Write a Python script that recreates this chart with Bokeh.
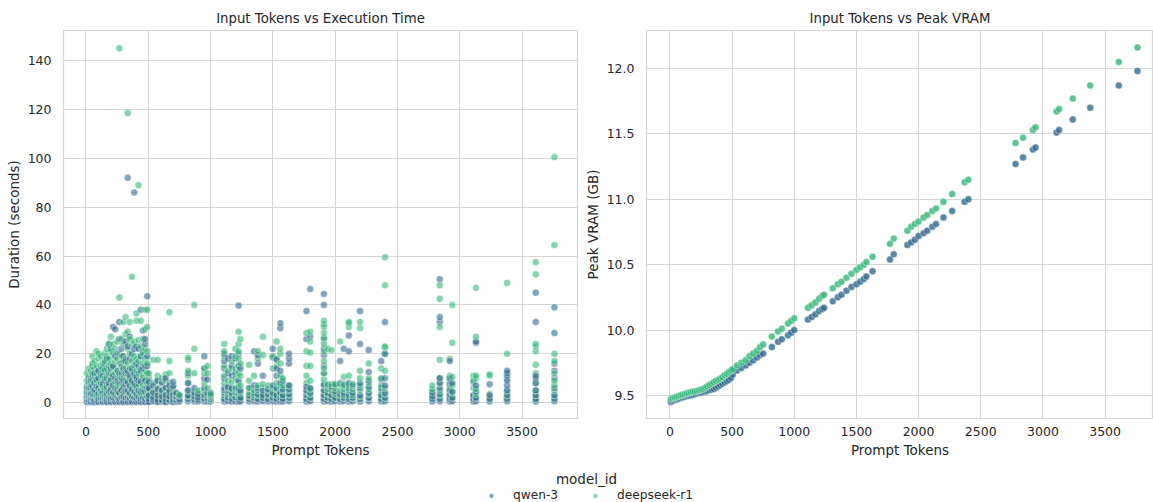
from bokeh.plotting import figure
from bokeh.layouts import column, row
from bokeh.models import (ColumnDataSource, Range1d, SingleIntervalTicker,
                          PrintfTickFormatter, Legend, LegendItem, Label)
from bokeh.embed import file_html
from bokeh.resources import INLINE

# ---- benchmark data -------------------------------------------------------
prompt_tokens = [8, 22, 38, 52, 68, 85, 100, 118, 135, 150, 168, 185, 200, 218, 235,
                 252, 268, 285, 300, 318, 335, 352, 370, 388, 405, 422, 440, 458, 475,
                 492, 505, 540, 575, 610, 640, 670, 700, 725, 750,
                 820, 870, 900, 950, 975, 1000,
                 1110, 1140, 1170, 1200, 1225, 1240,
                 1310, 1350, 1380, 1420, 1460, 1500, 1530, 1560, 1580, 1630,
                 1770, 1800, 1910, 1940, 1970, 2000, 2040, 2070, 2110, 2140, 2200,
                 2270, 2370, 2400,
                 2780, 2840, 2920, 2940, 3110, 3130, 3240, 3380, 3610, 3760]

qwen_vram = [9.45, 9.46, 9.465, 9.47, 9.475, 9.48, 9.485, 9.49, 9.495, 9.50, 9.50, 9.505,
             9.51, 9.515, 9.52, 9.52, 9.525, 9.53, 9.535, 9.54, 9.545, 9.55, 9.56, 9.57,
             9.58, 9.59, 9.60, 9.61, 9.62, 9.635, 9.66, 9.69, 9.71, 9.73, 9.75, 9.77,
             9.79, 9.81, 9.82,
             9.87, 9.91, 9.93, 9.96, 9.98, 10.0,
             10.08, 10.10, 10.12, 10.145, 10.16, 10.17,
             10.22, 10.25, 10.27, 10.30, 10.33, 10.35, 10.37, 10.39, 10.41, 10.45,
             10.54, 10.58, 10.65, 10.67, 10.69, 10.72, 10.74, 10.76, 10.79, 10.81, 10.86,
             10.91, 10.98, 11.0,
             11.27, 11.32, 11.38, 11.395, 11.51, 11.53, 11.61, 11.70, 11.87, 11.98]

deepseek_vram = [9.475, 9.48, 9.485, 9.49, 9.495, 9.50, 9.505, 9.51, 9.515, 9.52, 9.525,
                 9.53, 9.53, 9.535, 9.54, 9.545, 9.55, 9.56, 9.57, 9.58, 9.59, 9.60, 9.61,
                 9.62, 9.63, 9.64, 9.655, 9.665, 9.68, 9.69, 9.70, 9.73, 9.75, 9.77, 9.80,
                 9.82, 9.84, 9.87, 9.89,
                 9.95, 9.99, 10.01, 10.05, 10.07, 10.09,
                 10.17, 10.19, 10.21, 10.24, 10.26, 10.27,
                 10.32, 10.35, 10.37, 10.40, 10.43, 10.46, 10.48, 10.50, 10.52, 10.56,
                 10.66, 10.70, 10.76, 10.79, 10.81, 10.83, 10.86, 10.88, 10.91, 10.93, 10.98,
                 11.04, 11.13, 11.15,
                 11.43, 11.47, 11.53, 11.55, 11.67, 11.69, 11.77, 11.87, 12.05, 12.16]

# execution time (seconds) of each run, grouped per prompt
qwen_secs = [
    [0.5, 0.3, 1.2, 2.5, 4, 6], [0.5, 1.0, 3, 5.5, 8, 10], [0.6, 0.3, 1.5, 3.5, 6, 9],
    [0.5, 2, 4, 7, 11, 15], [0.5, 0.3, 1.2, 3, 5, 8, 12], [0.6, 2.5, 4.5, 7, 9.5],
    [0.5, 0.3, 1.5, 3.5, 6, 10, 13], [0.5, 2, 5, 8, 12], [0.6, 0.3, 1.8, 4, 7.5, 11, 14],
    [0.5, 2.2, 5, 9, 13, 16], [0.5, 0.3, 1.5, 3.5, 6.5, 10, 18], [0.6, 2.5, 4.5, 8, 12, 24],
    [0.5, 0.3, 1.6, 5, 9, 14, 22], [0.5, 2, 4, 7, 11, 15, 31], [0.6, 0.3, 1.8, 3.5, 6, 10, 19, 30],
    [0.5, 2.5, 5.5, 9, 13, 20], [0.5, 0.3, 1.5, 4, 8, 12, 26, 33], [0.6, 2, 5, 10, 16, 22],
    [0.5, 0.3, 2.5, 6, 9, 14, 19], [0.5, 1.8, 4.5, 7.5, 12, 17, 25],
    [0.6, 0.3, 2, 5, 8.5, 13, 23, 92], [0.5, 1.5, 4, 7, 11, 18, 27],
    [0.5, 0.3, 2.5, 5.5, 9, 14, 20], [0.6, 2, 4.5, 8, 12, 22, 86],
    [0.5, 0.3, 1.8, 3.5, 7, 10.5, 16, 23], [0.5, 2.5, 5, 9, 15, 22],
    [0.6, 0.3, 1.5, 4, 8.5, 13, 19, 38], [0.5, 2, 5.5, 10, 14, 21, 29.5],
    [0.5, 0.3, 1.6, 4.5, 9, 15, 24, 26], [0.6, 2.5, 6, 12, 15, 19, 43.5],
    [0.5, 0.3, 1.5, 3, 6, 8.5], [0.5, 0.9, 2, 4, 7], [0.5, 0.3, 1.2, 3, 5.5, 9],
    [0.4, 1, 2.5, 5, 8], [0.5, 0.3, 1.5, 3, 6, 10], [0.5, 1, 2.5, 4.5, 7],
    [0.5, 0.3, 1.2, 3, 6.5, 8.5], [0.4, 1, 2.5, 4], [0.5, 1.2, 2.8],
    [0.5, 1.5, 3, 5, 8, 12], [0.5, 1.2, 2.5, 4, 6], [0.5, 1, 2, 3.5],
    [0.5, 1.5, 3, 6, 10, 14, 19], [0.6, 1.8, 4, 9.5], [0.5, 1.5, 2.5, 4],
    [0.5, 1.5, 4, 6, 10, 14, 17, 20], [0.6, 2, 5, 6.5, 12, 18], [0.5, 1.5, 4, 6, 11, 15, 19],
    [0.6, 2, 5.5, 12, 18], [0.5, 1.5, 4, 6, 9, 15, 20, 39.7], [0.6, 2, 5, 14],
    [0.5, 1.5, 3, 6], [0.6, 2, 4, 7, 21], [0.5, 1.5, 3.5, 6, 16, 19.5],
    [0.6, 1.8, 3, 5, 11], [0.5, 1.5, 3.5, 5.5], [0.6, 2, 4, 7, 18.5, 22],
    [0.5, 1.5, 3, 6, 11, 14, 17.5], [0.6, 2, 4, 8, 13, 30.5, 32.5], [0.5, 1.5, 3, 5.5, 9],
    [0.6, 2, 3.5, 5.5, 7, 16, 18, 20],
    [0.5, 1.5, 3, 5, 6.5, 26, 37.5], [0.6, 2, 4, 6, 27, 46.5],
    [0.5, 1.5, 3, 5, 7.5, 12, 15, 19.5, 22, 26, 40, 44.5], [0.6, 2, 4, 7],
    [0.5, 1.5, 3, 6.5], [0.6, 2, 4.5, 7.5], [0.5, 1.5, 3.5, 8, 17], [0.6, 2, 4, 7.5, 22],
    [0.5, 1.5, 3, 6, 8, 21, 27.5], [0.6, 2, 4, 7], [0.5, 1.5, 3, 6, 8, 24, 37.5],
    [0.6, 2, 4, 6.5, 9, 12.5, 21.5], [0.5, 1.5, 3, 6, 9.5, 17], [0.6, 2, 4, 7, 10, 20, 33],
    [0.5, 1.5, 2.5, 4], [0.6, 1.5, 3.5, 6, 8, 10, 33, 35, 50.5], [0.5, 1.5, 3, 5, 7.5, 10, 17],
    [0.6, 2, 4.5, 8], [0.5, 1.5, 3, 8.5], [0.6, 2, 4.5, 7, 24.5, 25], [0.5, 1.5, 3, 7.5],
    [0.6, 1.5, 3, 5, 7, 9, 11, 12, 13], [0.5, 1.5, 3, 5, 8, 10, 11, 33, 45],
    [0.6, 1.5, 3, 6, 10, 13, 16, 28.5, 39],
]

deepseek_secs = [
    [1.5, 2.8, 4.5, 7, 9, 12], [1.2, 2.5, 4, 6, 8.5, 11, 14], [2, 3.5, 5, 7.5, 10, 13],
    [1.5, 3, 6, 9, 12, 16, 19], [2, 4, 5.5, 8, 11, 14, 17], [1.8, 3, 6.5, 9, 12, 15, 21],
    [2.2, 4, 7, 10, 13, 18, 20], [1.5, 3.5, 5, 8, 11, 15, 19], [2, 4.5, 6.5, 9, 12.5, 16],
    [1.6, 3, 6, 10, 13.5, 17, 20], [2.5, 5, 7.5, 11, 14, 19, 22], [1.8, 4, 7, 10.5, 15, 18, 24],
    [2, 3.5, 6, 9.5, 12, 16, 21, 27], [1.5, 4.5, 8, 11.5, 14.5, 20, 24], [2.5, 5, 8.5, 12, 17, 22],
    [2, 4, 6.5, 10, 13, 18, 25], [1.8, 3.5, 7, 11, 16, 20, 43, 145], [2.2, 5, 8, 12, 15, 19, 26],
    [1.5, 4, 7.5, 10, 13.5, 17, 24, 33], [2, 5.5, 9, 14, 18, 28, 35],
    [2.5, 4.5, 8, 12, 16, 22, 29, 118.5], [1.8, 3.5, 6.5, 10, 14, 20, 26, 33],
    [2, 5, 8, 13, 17, 24, 51.5], [2.2, 4, 7, 11, 15, 19, 25],
    [1.5, 3.5, 6, 9.5, 13, 18, 33.5, 36.5], [2, 4.5, 7.5, 12, 17, 25.5, 89],
    [2.5, 5, 9, 14, 19, 23, 33.5], [1.8, 4, 7, 11, 16, 20, 26],
    [2, 6, 9.5, 13, 18, 22, 30, 38], [2.2, 5, 8, 12, 16, 21, 31, 38],
    [1.5, 3, 5.5, 10, 12], [1.2, 2.5, 4.5, 8, 17.5], [1.5, 3, 6, 9, 11, 17.5],
    [1.2, 2.8, 5, 8.5, 10], [1.5, 3.5, 6, 9, 11.5], [1.2, 2.5, 5, 8, 12, 17, 37],
    [1.5, 2.5, 4, 7], [1.2, 2.2, 3.5], [1.5, 2.8, 3.2],
    [1.2, 2.5, 5, 8, 11, 13, 17.5, 18.5], [1.5, 3, 4.5, 12, 22, 40], [1.2, 2.5, 4, 5],
    [1.5, 3, 5, 8, 12, 14], [1.5, 3, 6, 12, 15], [1.2, 2.2, 3, 3.5],
    [1.5, 3, 5, 8, 11, 15, 19, 21, 24], [2, 3.5, 6, 9, 13], [1.8, 3, 5.5, 8.5, 14, 17],
    [2, 4, 6, 10, 14, 19, 22], [1.5, 3, 5, 8, 12, 15, 18, 21, 24, 29], [2, 4, 7, 11, 16, 26],
    [1.5, 2.5, 4, 6, 9, 15.5], [1.8, 3, 5, 11], [1.5, 3, 5, 7, 18, 21],
    [2, 3.5, 6, 7.5, 19.5, 27], [1.5, 3, 5, 7], [1.8, 3.5, 6, 14, 19],
    [1.5, 3, 5.5, 8, 15, 18, 25], [2, 3.5, 6.5, 11, 16, 20, 22], [1.5, 3, 5, 7, 10],
    [1.8, 3, 5, 7],
    [1.5, 3, 4.5, 8, 11, 15, 21, 28.5], [2, 3.5, 5.5, 9, 15, 20.5, 25, 29],
    [1.5, 3, 5, 7, 9.5, 12, 14, 17, 21, 24, 26.5, 28.5, 31, 32, 33.5], [2, 3.5, 5.5, 7.5, 22],
    [1.5, 3, 5, 7.5, 21.5], [1.8, 3.5, 6, 7.5], [1.5, 3, 5, 7.5, 25], [1.8, 3, 5.5, 7, 10.5],
    [1.5, 3.5, 5, 7, 11, 31, 32.5, 33], [1.8, 3, 5.5, 7.5], [1.5, 2.5, 5, 7, 10, 13, 30.5, 33],
    [1.8, 3.5, 5.5, 8, 10, 16], [1.5, 3, 5, 7, 10, 14], [1.8, 3.5, 6, 13, 20, 22.5, 23, 48, 59.5],
    [1.5, 3, 4.5, 5.5, 7], [1.8, 3, 5, 8, 10, 17.5, 31, 42.5, 48], [1.5, 3.5, 6, 9, 11, 18],
    [2, 4, 7, 10.5, 24.5, 40], [1.5, 3, 6, 9, 11], [1.8, 3.5, 5.5, 10, 11, 27, 47],
    [1.5, 3.5, 11, 11.5], [1.8, 3, 5, 10, 20, 49],
    [1.5, 3, 5, 8, 12, 15.5, 21, 23, 24, 52.5, 57.5],
    [1.8, 3, 5, 7, 9, 12, 17, 20, 64.5, 100.5],
]

models = ["qwen-3", "deepseek-r1"]
colors = ["#31688e", "#35b779"]

# ---- styling helpers ------------------------------------------------------
FONT = "DejaVu Sans"
TEXT = "#262626"
GRID = "#d5d5d5"
MARK = 7


def style(p, title, ylabel, yticker):
    p.title.text = title
    p.title.align = "center"
    p.title.text_font = FONT
    p.title.text_font_size = "13.3px"
    p.title.text_font_style = "normal"
    p.title.text_color = TEXT
    p.outline_line_color = GRID
    p.outline_line_width = 1.2
    p.background_fill_color = "white"
    p.border_fill_color = "white"
    p.xaxis.ticker = SingleIntervalTicker(interval=500)
    p.yaxis.ticker = yticker
    for ax in (p.xaxis, p.yaxis):
        ax.axis_line_color = None
        ax.major_tick_line_color = None
        ax.minor_tick_line_color = None
        ax.major_label_text_font = FONT
        ax.major_label_text_font_size = "12.5px"
        ax.major_label_text_color = TEXT
        ax.axis_label_text_font = FONT
        ax.axis_label_text_font_size = "13.5px"
        ax.axis_label_text_font_style = "normal"
        ax.axis_label_text_color = TEXT
    p.xaxis.major_label_standoff = 2
    p.xaxis.axis_label_standoff = 3
    p.yaxis.major_label_standoff = 6
    p.yaxis.axis_label_standoff = 3
    p.xaxis.axis_label = "Prompt Tokens"
    p.yaxis.axis_label = ylabel
    p.grid.grid_line_color = GRID
    p.grid.grid_line_width = 1


# ---- left: execution time -------------------------------------------------
p1 = figure(width=581, height=460, output_backend="svg", toolbar_location=None,
            x_range=Range1d(-180, 3945), y_range=Range1d(-6.5, 152.3),
            min_border_left=63, min_border_right=4, min_border_top=30,
            min_border_bottom=42)
style(p1, "Input Tokens vs Execution Time", "Duration (seconds)",
      SingleIntervalTicker(interval=20))

# runs of both models interleaved per prompt, so neither colour sits on top
xs, ys, cs = [], [], []
for tok, q_runs, d_runs in zip(prompt_tokens, qwen_secs, deepseek_secs):
    n = max(len(q_runs), len(d_runs))
    for k in range(n):
        if k < len(q_runs):
            xs.append(tok); ys.append(q_runs[k]); cs.append(colors[0])
        if k < len(d_runs):
            xs.append(tok); ys.append(d_runs[k]); cs.append(colors[1])
src1 = ColumnDataSource(dict(x=xs, y=ys, c=cs))
p1.scatter("x", "y", source=src1, size=MARK, fill_color="c", fill_alpha=0.6,
           line_color="white", line_width=0.5, line_alpha=0.8)

# ---- right: peak VRAM (frame runs to the page edge) -----------------------
p2 = figure(width=572, height=460, output_backend="svg", toolbar_location=None,
            x_range=Range1d(-188, 3889), y_range=Range1d(9.324, 12.29),
            min_border_left=60, min_border_right=0, min_border_top=30,
            min_border_bottom=42)
style(p2, "Input Tokens vs Peak VRAM", "Peak VRAM (GB)",
      SingleIntervalTicker(interval=0.5))
p2.yaxis.formatter = PrintfTickFormatter(format="%.1f")

for vram, col in ((qwen_vram, colors[0]), (deepseek_vram, colors[1])):
    src = ColumnDataSource(dict(x=prompt_tokens, y=vram))
    p2.scatter("x", "y", source=src, size=MARK, fill_color=col, fill_alpha=0.8,
               line_color="white", line_width=0.5, line_alpha=0.8)

# ---- shared legend strip --------------------------------------------------
p3 = figure(width=1153, height=42, output_backend="svg", toolbar_location=None,
            x_range=Range1d(0, 1153), y_range=Range1d(0, 42),
            min_border=0, outline_line_color=None)
p3.axis.visible = False
p3.grid.visible = False

items = []
for name, col in zip(models, colors):
    # legend proxy glyph, kept outside the visible range
    r = p3.scatter(x=[-500], y=[-500], size=MARK, fill_color=col, fill_alpha=0.6,
                   line_color="white", line_width=0.5)
    items.append(LegendItem(label=name, renderers=[r]))

legend = Legend(items=items, orientation="horizontal", location=(485, 0),
                border_line_color=None, background_fill_alpha=0,
                label_text_font=FONT, label_text_font_size="12.2px",
                label_text_color=TEXT, glyph_width=12, glyph_height=13,
                label_standoff=16, spacing=31, padding=0, margin=0)
p3.add_layout(legend, "center")
p3.add_layout(Label(x=586, y=24, text="model_id", text_align="center",
                    text_baseline="middle", text_font=FONT,
                    text_font_size="13.5px", text_color=TEXT))

layout = column(row(p1, p2), p3)

open("out.html", "w").write(file_html(layout, INLINE))
